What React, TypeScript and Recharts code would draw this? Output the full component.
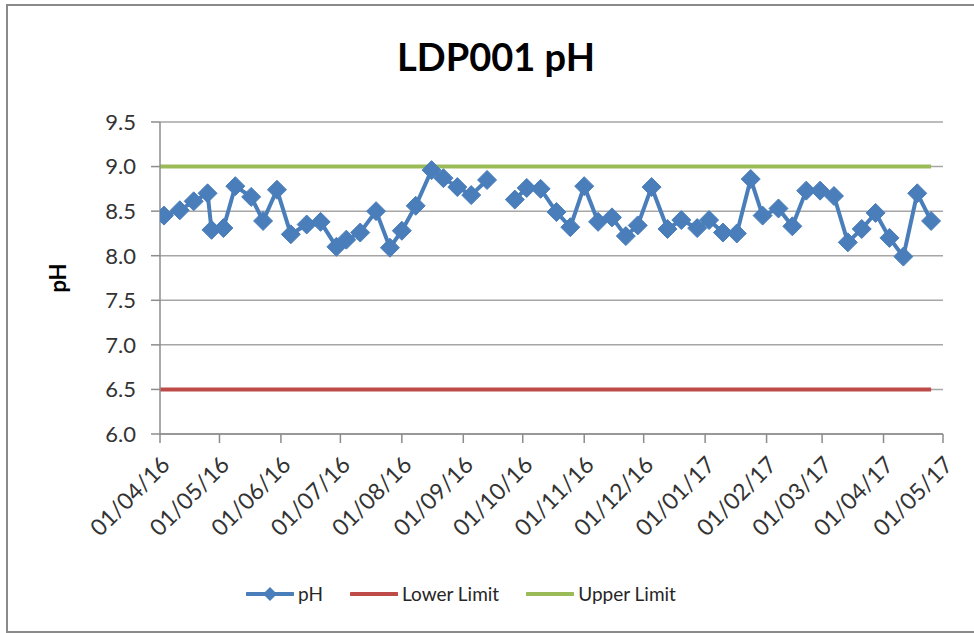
import React from 'react';
import { LineChart, Line, XAxis, YAxis, CartesianGrid, Legend } from 'recharts';

const sampleDates = [
  '2016-04-03', '2016-04-11', '2016-04-18', '2016-04-25', '2016-04-27',
  '2016-05-03', '2016-05-09', '2016-05-17', '2016-05-23', '2016-05-30',
  '2016-06-06', '2016-06-14', '2016-06-21', '2016-06-29',
  '2016-07-04', '2016-07-11', '2016-07-19', '2016-07-26',
  '2016-08-01', '2016-08-08', '2016-08-16', '2016-08-22', '2016-08-29',
  '2016-09-05', '2016-09-13', '2016-09-20', '2016-09-27',
  '2016-10-03', '2016-10-10', '2016-10-18', '2016-10-25',
  '2016-11-01', '2016-11-08', '2016-11-15', '2016-11-22', '2016-11-28',
  '2016-12-05', '2016-12-13', '2016-12-20', '2016-12-28',
  '2017-01-03', '2017-01-10', '2017-01-17', '2017-01-24', '2017-01-30',
  '2017-02-07', '2017-02-14', '2017-02-21', '2017-02-28',
  '2017-03-07', '2017-03-14', '2017-03-21', '2017-03-28',
  '2017-04-04', '2017-04-11', '2017-04-18', '2017-04-25',
];

const phValues: (number | null)[] = [
  8.45, 8.51, 8.61, 8.70, 8.29,
  8.31, 8.78, 8.66, 8.39, 8.74,
  8.24, 8.35, 8.38, 8.10,
  8.18, 8.26, 8.50, 8.09,
  8.28, 8.56, 8.96, 8.87, 8.77,
  8.68, 8.85, null, 8.63,
  8.76, 8.75, 8.49, 8.32,
  8.78, 8.38, 8.43, 8.22, 8.34,
  8.77, 8.30, 8.40, 8.31,
  8.40, 8.26, 8.25, 8.86, 8.45,
  8.53, 8.33, 8.73, 8.73,
  8.67, 8.15, 8.30, 8.48,
  8.20, 7.99, 8.70, 8.39,
];

const limitStartDate = '2016-04-01';
const lowerLimit = 6.5;
const upperLimit = 9.0;

const monthTicks = [
  '2016-04-01', '2016-05-01', '2016-06-01', '2016-07-01', '2016-08-01',
  '2016-09-01', '2016-10-01', '2016-11-01', '2016-12-01', '2017-01-01',
  '2017-02-01', '2017-03-01', '2017-04-01', '2017-05-01',
];

const yTicks = [6.0, 6.5, 7.0, 7.5, 8.0, 8.5, 9.0, 9.5];

const BLUE = '#4A7EBB';
const RED = '#BE4B48';
const GREEN = '#9BBB59';
const FONT = 'Lato, "Open Sans", sans-serif';

const toTime = (s: string) => {
  const [y, m, d] = s.split('-').map(Number);
  return Date.UTC(y, m - 1, d);
};

const fmtDate = (t: number) => {
  const dt = new Date(t);
  const dd = String(dt.getUTCDate()).padStart(2, '0');
  const mm = String(dt.getUTCMonth() + 1).padStart(2, '0');
  const yy = String(dt.getUTCFullYear() % 100).padStart(2, '0');
  return `${dd}/${mm}/${yy}`;
};

const rows = [
  { t: toTime(limitStartDate), ph: null as number | null, lower: lowerLimit, upper: upperLimit },
  ...sampleDates.map((d, i) => ({ t: toTime(d), ph: phValues[i], lower: lowerLimit, upper: upperLimit })),
];

const Diamond = (props: any) => {
  const { cx, cy, value, index } = props;
  if (value == null || cx == null || cy == null) return <g key={`d-${index}`} />;
  const r = 9.5;
  return (
    <path
      key={`d-${index}`}
      d={`M${cx},${cy - r}L${cx + r},${cy}L${cx},${cy + r}L${cx - r},${cy}Z`}
      fill={BLUE}
      stroke={BLUE}
      strokeWidth={1}
    />
  );
};

const XTick = (props: any) => {
  const { x, y, payload } = props;
  return (
    <g transform={`translate(${x},${y})`}>
      <text
        x={0}
        y={0}
        dy={16}
        textAnchor="end"
        transform="rotate(-45)"
        fill="#333"
        fontSize={23}
        fontFamily={FONT}
      >
        {fmtDate(payload.value)}
      </text>
    </g>
  );
};

const legendItems = [
  { label: 'pH', color: BLUE, marker: true },
  { label: 'Lower Limit', color: RED, marker: false },
  { label: 'Upper Limit', color: GREEN, marker: false },
];

const renderLegend = () => (
  <div style={{ display: 'flex', justifyContent: 'center', alignItems: 'center', fontFamily: FONT, fontSize: 19, color: '#262626' }}>
    {legendItems.map((it, i) => (
      <div key={it.label} style={{ display: 'flex', alignItems: 'center', marginLeft: i === 0 ? 0 : 27 }}>
        <svg width={48} height={20} style={{ marginRight: 4 }}>
          <line x1={1} y1={10} x2={47} y2={10} stroke={it.color} strokeWidth={4} strokeLinecap="round" />
          {it.marker && <path d="M24,3L31,10L24,17L17,10Z" fill={it.color} />}
        </svg>
        <span>{it.label}</span>
      </div>
    ))}
  </div>
);

const YLabel = (props: any) => {
  const { viewBox } = props;
  const cx = viewBox.x + 57;
  const cy = viewBox.y + viewBox.height / 2;
  return (
    <text
      x={cx}
      y={cy}
      transform={`rotate(-90, ${cx}, ${cy})`}
      textAnchor="middle"
      dominantBaseline="central"
      fontSize={22}
      fontWeight="bold"
      fontFamily={FONT}
      fill="#000"
    >
      pH
    </text>
  );
};

export default function App() {
  return (
    <div style={{ position: 'absolute', left: 0, top: 0, width: 974, height: 633, overflow: 'hidden', background: '#fff', fontFamily: FONT }}>
      <div style={{ position: 'absolute', left: 6, top: 4, width: 1100, height: 629, border: '2px solid #8a8a8a', boxSizing: 'border-box' }} />
      <div style={{ position: 'absolute', left: 0, top: 33, width: 992, textAlign: 'center', fontSize: 38, fontWeight: 'bold', color: '#000', lineHeight: '46px', fontFamily: FONT }}>
        LDP001 pH
      </div>
      <div style={{ position: 'absolute', left: 0, top: 0 }}>
        <LineChart width={974} height={633} data={rows} margin={{ top: 122, right: 31, left: 0, bottom: 79 }}>
          <CartesianGrid vertical={false} stroke="#a6a6a6" strokeWidth={1.5} />
          <XAxis
            type="number"
            dataKey="t"
            scale="linear"
            domain={[toTime(monthTicks[0]), toTime(monthTicks[monthTicks.length - 1])]}
            ticks={monthTicks.map(toTime)}
            interval={0}
            allowDataOverflow
            height={120}
            tickSize={9}
            tickMargin={12}
            stroke="#8c8c8c"
            strokeWidth={1.5}
            tick={<XTick />}
          />
          <YAxis
            type="number"
            domain={[6, 9.5]}
            ticks={yTicks}
            interval={0}
            width={160}
            tickSize={9}
            tickMargin={15}
            stroke="#8c8c8c"
            strokeWidth={1.5}
            tickFormatter={(v: number) => v.toFixed(1)}
            tick={{ fill: '#333', fontSize: 22, fontFamily: FONT }}
            label={<YLabel />}
          />
          <Line dataKey="lower" name="Lower Limit" stroke={RED} strokeWidth={4} dot={false} isAnimationActive={false} />
          <Line dataKey="upper" name="Upper Limit" stroke={GREEN} strokeWidth={4} dot={false} isAnimationActive={false} />
          <Line dataKey="ph" name="pH" stroke={BLUE} strokeWidth={4} dot={<Diamond />} activeDot={false} connectNulls={false} isAnimationActive={false} />
          <Legend
            layout="horizontal"
            verticalAlign="middle"
            align="center"
            content={renderLegend}
            wrapperStyle={{ top: 582, left: 0, width: 922 }}
          />
        </LineChart>
      </div>
    </div>
  );
}
